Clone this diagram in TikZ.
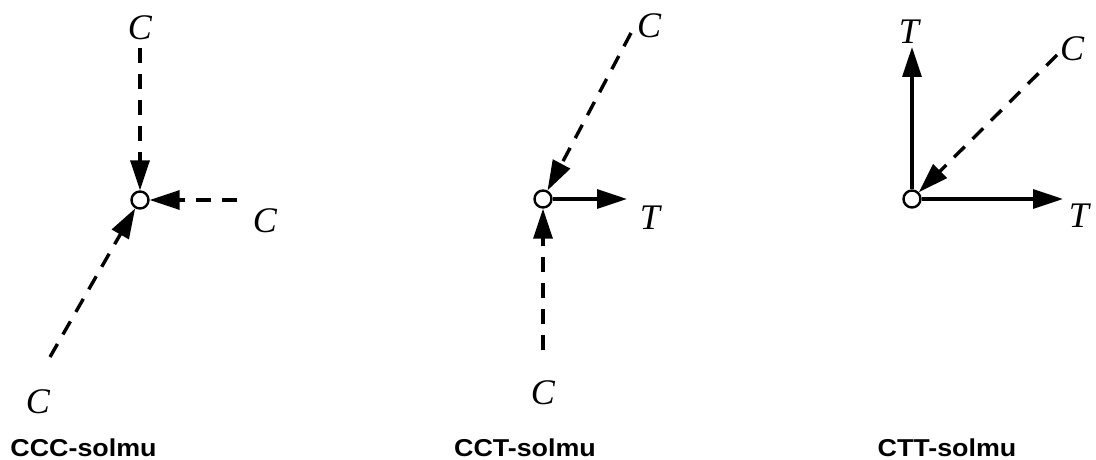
\documentclass[tikz,border=0pt]{standalone}
\usepackage{fontspec}
\setmainfont{Liberation Serif}
\newfontfamily\capfont{Liberation Sans}
\usetikzlibrary{arrows.meta}
\tikzset{
  joint/.style={circle,draw,fill=white,line width=2.4pt,minimum size=17pt,inner sep=0pt},
  lbl/.style={font=\fontsize{36}{40}\selectfont\itshape,anchor=base,inner sep=0pt},
  capt/.style={font=\capfont\bfseries\fontsize{24.4}{28}\selectfont,anchor=base,inner sep=0pt,xscale=1.1},
  comp/.style={line width=3.4pt,dash pattern=on 15pt off 11pt,-{Triangle[length=30pt,width=19pt]}},
  tens/.style={line width=3.4pt,-{Triangle[length=30pt,width=19pt]}}
}
\begin{document}
\begin{tikzpicture}[x=1pt,y=-1pt]
\useasboundingbox (0,0) rectangle (1096,460);
% panel 1
\node[joint] (n1) at (140,200) {};
\coordinate (a1) at (140,48);
\coordinate (b1) at (237,200);
\coordinate (c1) at (50,357);
\draw[comp] (a1) -- (n1);
\draw[comp] (b1) -- (n1);
\draw[comp] (c1) -- (n1);
\node[lbl] (la1) at (140,40) {C};
\node[lbl] (lb1) at (265,232) {C};
\node[lbl] (lc1) at (38,413) {C};
\node[capt] (cap1) at (83.5,456) {CCC-solmu};
% panel 2
\node[joint] (n2) at (543,199) {};
\coordinate (a2) at (631,33);
\coordinate (b2) at (627,199);
\coordinate (c2) at (543,350);
\draw[comp] (a2) -- (n2);
\draw[comp] (c2) -- (n2);
\draw[tens] (n2) -- (b2);
\node[lbl] (la2) at (649,38) {C};
\node[lbl] (lb2) at (650,229) {T};
\node[lbl] (lc2) at (543,404) {C};
\node[capt] (cap2) at (525,456) {CCT-solmu};
% panel 3
\node[joint] (n3) at (912,199) {};
\coordinate (a3) at (912,47);
\coordinate (b3) at (1057,55);
\coordinate (c3) at (1063,199);
\draw[tens] (n3) -- (a3);
\draw[comp] (b3) -- (n3);
\draw[tens] (n3) -- (c3);
\node[lbl] (la3) at (909,44) {T};
\node[lbl] (lb3) at (1072,61) {C};
\node[lbl] (lc3) at (1079,227) {T};
\node[capt] (cap3) at (947,456) {CTT-solmu};
\end{tikzpicture}
\end{document}
